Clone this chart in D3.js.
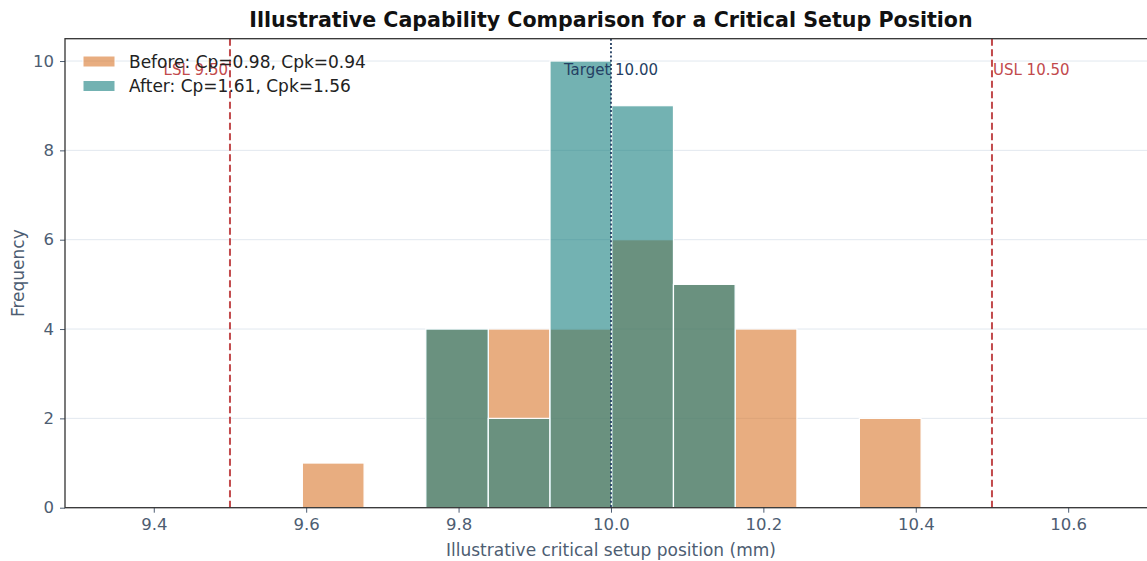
<!DOCTYPE html>
<html>
<head>
<meta charset="utf-8">
<script src="https://cdn.jsdelivr.net/npm/d3@7"></script>
<style>
  body { margin: 0; background: #fff; }
  svg { display: block; font-family: "DejaVu Sans", sans-serif; }
</style>
</head>
<body>
<svg id="chart" width="1147" height="561"></svg>
<script>
// ---- data ----
const binEdges = [9.595, 9.676, 9.757, 9.839, 9.920, 10.001, 10.082, 10.163, 10.244, 10.326, 10.407];
const beforeCounts = [1, 0, 4, 4, 4, 6, 5, 4, 0, 2];
const afterCounts  = [0, 0, 4, 2, 10, 9, 5, 0, 0, 0];
const seriesLabels = ["Before: Cp=0.98, Cpk=0.94", "After: Cp=1.61, Cpk=1.56"];
const specLimits = [{name: "LSL", value: 9.50}, {name: "USL", value: 10.50}];
const target = 10.00;
const xTicks = [9.4, 9.6, 9.8, 10.0, 10.2, 10.4, 10.6];
const yTicks = [0, 2, 4, 6, 8, 10];
const xDomain = [9.2835, 10.7165];
const yDomain = [0, 10.5];

// ---- layout ----
const svg = d3.select("#chart");
const m = {left: 65, top: 38.7, bottom: 507.7};
const plotRight = 65 + (xDomain[1]-xDomain[0]) * 762;
const x = d3.scaleLinear().domain(xDomain).range([m.left, plotRight]);
const y = d3.scaleLinear().domain(yDomain).range([m.bottom, m.top]);

const slate = "#4d5d72";
const orange = "rgb(217,118,43)";
const teal = "rgb(22,127,127)";

// grid
svg.append("g").selectAll("line").data(yTicks).join("line")
  .attr("x1", m.left).attr("x2", plotRight)
  .attr("y1", d => y(d)).attr("y2", d => y(d))
  .attr("stroke", "#e2e8ef").attr("stroke-width", 1);

// bars
function drawBars(counts, color) {
  const data = counts.map((c, i) => ({x0: binEdges[i], x1: binEdges[i+1], c})).filter(d => d.c > 0);
  svg.append("g").selectAll("rect").data(data).join("rect")
    .attr("x", d => x(d.x0)).attr("width", d => x(d.x1) - x(d.x0))
    .attr("y", d => y(d.c)).attr("height", d => y(0) - y(d.c))
    .attr("fill", color).attr("fill-opacity", 0.6)
    .attr("stroke", "#ffffff").attr("stroke-width", 1.2);
}
drawBars(beforeCounts, orange);
drawBars(afterCounts, teal);

// spec lines
const red = "#c24a4c";
specLimits.forEach(s => {
  svg.append("line")
    .attr("x1", x(s.value)).attr("x2", x(s.value))
    .attr("y1", m.top).attr("y2", m.bottom)
    .attr("stroke", red).attr("stroke-width", 2).attr("stroke-dasharray", "7,3.5");
  svg.append("text")
    .attr("x", x(s.value) + (s.name === "LSL" ? -2 : 1)).attr("y", 75)
    .attr("text-anchor", s.name === "LSL" ? "end" : "start")
    .attr("font-size", 15).attr("fill", red)
    .text(`${s.name} ${s.value.toFixed(2)}`);
});
// target line
const navy = "#243f63";
svg.append("line")
  .attr("x1", x(target)).attr("x2", x(target))
  .attr("y1", m.top).attr("y2", m.bottom)
  .attr("stroke", navy).attr("stroke-width", 1.8).attr("stroke-dasharray", "2,2.2");
svg.append("text")
  .attr("x", x(target)).attr("y", 75).attr("text-anchor", "middle")
  .attr("font-size", 15).attr("fill", navy)
  .text(`Target ${target.toFixed(2)}`);

// axes
const xAxis = svg.append("g").attr("transform", `translate(0,${m.bottom})`)
  .call(d3.axisBottom(x).tickValues(xTicks).tickFormat(d3.format(".1f")).tickSize(5).tickPadding(6));
const yAxis = svg.append("g").attr("transform", `translate(${m.left},0)`)
  .call(d3.axisLeft(y).tickValues(yTicks).tickFormat(d3.format("d")).tickSize(5).tickPadding(6));
[xAxis, yAxis].forEach(a => {
  a.select(".domain").remove();
  a.selectAll(".tick line").attr("stroke", slate);
  a.selectAll(".tick text").attr("fill", slate).attr("font-size", 16.5).attr("font-family", "DejaVu Sans");
});

// spines
svg.append("rect")
  .attr("x", m.left).attr("y", m.top)
  .attr("width", plotRight - m.left).attr("height", m.bottom - m.top)
  .attr("fill", "none").attr("stroke", "#333").attr("stroke-width", 1.3);

// axis labels
svg.append("text").attr("x", (m.left + plotRight)/2).attr("y", 556)
  .attr("text-anchor", "middle").attr("font-size", 17).attr("fill", slate)
  .text("Illustrative critical setup position (mm)");
svg.append("text")
  .attr("transform", `translate(24,${(m.top + m.bottom)/2}) rotate(-90)`)
  .attr("text-anchor", "middle").attr("font-size", 17).attr("fill", slate)
  .text("Frequency");

// title
svg.append("text").attr("x", (m.left + plotRight)/2).attr("y", 27)
  .attr("text-anchor", "middle").attr("font-size", 20.6).attr("font-weight", "bold").attr("fill", "#111")
  .text("Illustrative Capability Comparison for a Critical Setup Position");

// legend
const legend = svg.append("g");
[orange, teal].forEach((c, i) => {
  const yy = 56 + i * 24.5;
  legend.append("rect").attr("x", 83).attr("y", yy).attr("width", 32).attr("height", 11)
    .attr("fill", c).attr("fill-opacity", 0.6).attr("stroke", "#fff").attr("stroke-width", 1);
  legend.append("text").attr("x", 129).attr("y", yy + 11.8)
    .attr("font-size", 17).attr("fill", "#222").text(seriesLabels[i]);
});
</script>
</body>
</html>
